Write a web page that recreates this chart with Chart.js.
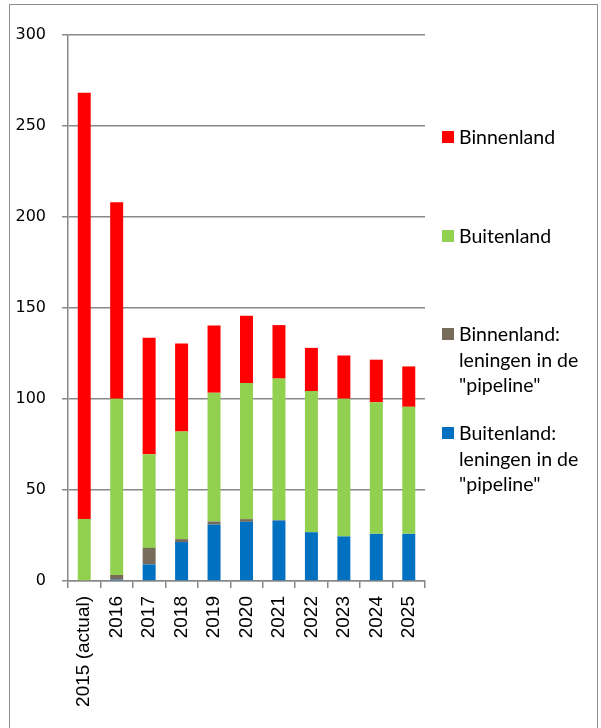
<!DOCTYPE html>
<html>
<head>
<meta charset="utf-8">
<script src="https://cdn.jsdelivr.net/npm/chart.js@4.4.1/dist/chart.umd.min.js"></script>
<style>
  body { margin: 0; background: #fff; }
  #wrap { position: relative; width: 601px; height: 728px; overflow: hidden; }
  #frame { position: absolute; left: 9px; top: 4px; width: 587px; height: 760px; border: 1.5px solid #8c8c8c; }
  #chart { position: absolute; left: 0; top: 0; }
  #legend { position: absolute; left: 442px; top: 0; font-family: Lato, "Open Sans", sans-serif; font-size: 19.5px; color: #000; }
  .item { position: absolute; left: 0; width: 150px; line-height: 25.5px; white-space: nowrap; }
  .box { position: absolute; left: 0; top: 7px; width: 12px; height: 12px; }
  .txt { position: absolute; left: 17px; top: 0; }
</style>
</head>
<body>
<div id="wrap">
  <div id="frame"></div>
  <canvas id="chart" width="601" height="728"></canvas>
  <div id="legend"></div>
</div>
<script>
// categories
var years = ['2015 (actual)', '2016', '2017', '2018', '2019', '2020', '2021', '2022', '2023', '2024', '2025'];

// stacked series, bottom to top
var buitenlandPipeline = [0, 0.7, 9.1, 21.4, 31.0, 32.5, 33.2, 26.8, 24.5, 25.9, 25.9];
var binnenlandPipeline = [0, 2.6, 9.1, 1.6, 1.7, 1.5, 0.3, 0, 0, 0, 0];
var buitenland = [34.1, 96.9, 51.5, 59.1, 70.8, 74.8, 77.7, 77.6, 75.7, 72.3, 69.8];
var binnenland = [234.2, 107.9, 63.9, 48.4, 36.9, 36.9, 29.4, 23.7, 23.7, 23.4, 22.2];

var yTicks = [0, 50, 100, 150, 200, 250, 300];

var datasets = [
  { label: ['Buitenland:', 'leningen in de', '"pipeline"'], data: buitenlandPipeline, backgroundColor: '#0070C0' },
  { label: ['Binnenland:', 'leningen in de', '"pipeline"'], data: binnenlandPipeline, backgroundColor: '#776B5C' },
  { label: ['Buitenland'], data: buitenland, backgroundColor: '#92D050' },
  { label: ['Binnenland'], data: binnenland, backgroundColor: '#FF0000' }
];

var ctx = document.getElementById('chart').getContext('2d');
var chart = new Chart(ctx, {
  type: 'bar',
  data: {
    labels: years,
    datasets: datasets.map(function (d) {
      return {
        label: d.label.join(' '),
        data: d.data,
        backgroundColor: d.backgroundColor,
        borderWidth: 0,
        barPercentage: 0.4,
        categoryPercentage: 1
      };
    })
  },
  options: {
    responsive: false,
    animation: false,
    layout: { padding: { left: 0, top: 35, right: 176, bottom: 0 } },
    plugins: {
      legend: { display: false },
      tooltip: { enabled: false },
      title: { display: false }
    },
    scales: {
      x: {
        stacked: true,
        offset: true,
        grid: { display: true, drawOnChartArea: false, drawTicks: true, tickLength: 7, offset: true, color: '#888', lineWidth: 1.5 },
        border: { display: true, color: '#888', width: 1.5 },
        ticks: {
          minRotation: 90,
          maxRotation: 90,
          autoSkip: false,
          padding: 8,
          color: '#000',
          font: { family: '"Liberation Sans", Arial, sans-serif', size: 19 }
        },
        afterFit: function (scale) { scale.height = 147; }
      },
      y: {
        stacked: true,
        min: 0,
        max: 300,
        afterBuildTicks: function (scale) {
          scale.ticks = yTicks.map(function (v) { return { value: v }; });
        },
        grid: { color: '#888', lineWidth: 1.5, tickLength: 6 },
        border: { display: true, color: '#888', width: 1.5 },
        ticks: {
          padding: 16,
          color: '#000',
          font: { family: '"DejaVu Sans", Verdana, sans-serif', size: 16 }
        },
        afterFit: function (scale) { scale.width = 68; }
      }
    }
  }
});

// legend on the right, top entry = top of the stack
var legend = document.getElementById('legend');
datasets.slice().reverse().forEach(function (d, i) {
  var item = document.createElement('div');
  item.className = 'item';
  item.style.top = (124 + i * 98.7) + 'px';
  var box = document.createElement('div');
  box.className = 'box';
  box.style.background = d.backgroundColor;
  var txt = document.createElement('div');
  txt.className = 'txt';
  txt.innerHTML = d.label.join('<br>');
  item.appendChild(box);
  item.appendChild(txt);
  legend.appendChild(item);
});
</script>
</body>
</html>
